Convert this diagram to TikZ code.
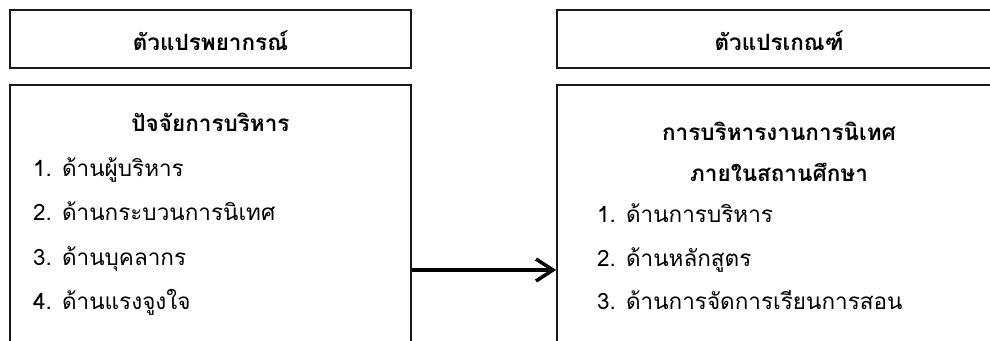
\documentclass[tikz,border=0pt]{standalone}
\usepackage{fontspec}
\newfontfamily\thaifont[Script=Thai]{Loma}
\usetikzlibrary{arrows.meta}
\tikzset{
  x=1pt,y=-1pt,
  frame/.style={draw=black!90,line width=1.6pt,inner sep=0pt,rectangle},
  ttl/.style={font=\thaifont\bfseries\fontsize{22.5}{26}\selectfont,inner sep=0pt},
  itm/.style={font=\thaifont\fontsize{22.5}{26}\selectfont,inner sep=0pt,anchor=base west},
  conn/.style={line width=3.5pt,-{Straight Barb[length=17pt,width=22pt,line width=3.5pt]}}
}
\begin{document}
\begin{tikzpicture}
\useasboundingbox (0,0) rectangle (990,340);
% boxes
\node[frame,minimum width=401pt,minimum height=58pt] (lt) at (210.5,39) {};
\node[frame,minimum width=401pt,minimum height=275pt] (lb) at (210.5,222.5) {};
\node[frame,minimum width=460pt,minimum height=58pt] (rt) at (787,39) {};
\node[frame,minimum width=460pt,minimum height=275pt] (rb) at (787,222.5) {};
% titles
\node[ttl,anchor=base] (ltt) at (210.5,50) {ตัวแปรพยากรณ์};
\node[ttl,anchor=base] (rtt) at (779,50) {ตัวแปรเกณฑ์};
% left content
\node[ttl,anchor=base] (lh) at (210.5,131) {ปัจจัยการบริหาร};
\node[itm] (l1) at (33,176) {1. ด้านผู้บริหาร};
\node[itm] (l2) at (33,220) {2. ด้านกระบวนการนิเทศ};
\node[itm] (l3) at (33,265) {3. ด้านบุคลากร};
\node[itm] (l4) at (33,309) {4. ด้านแรงจูงใจ};
% right content
\node[ttl,anchor=base] (rh1) at (779,140) {การบริหารงานการนิเทศ};
\node[ttl,anchor=base] (rh2) at (779,181) {ภายในสถานศึกษา};
\node[itm] (r1) at (597,222) {1. ด้านการบริหาร};
\node[itm] (r2) at (597,266) {2. ด้านหลักสูตร};
\node[itm] (r3) at (597,309) {3. ด้านการจัดการเรียนการสอน};
% connector
\coordinate (ay) at (0,270);
\draw[conn] (lb.east |- ay) -- (rb.west |- ay);
\end{tikzpicture}
\end{document}
